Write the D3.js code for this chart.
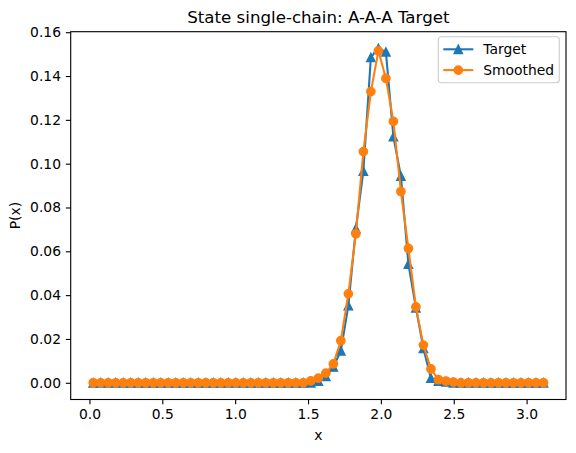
<!DOCTYPE html>
<html>
<head>
<meta charset="utf-8">
<script src="https://cdn.jsdelivr.net/npm/d3@7"></script>
<style>
  body { margin: 0; background: #fff; }
  text { font-family: "DejaVu Sans", sans-serif; fill: #000; }
</style>
</head>
<body>
<svg id="chart" width="576" height="453"></svg>
<script>
// bin centres on [0, pi], 61 bins
var xValues = [0.0258, 0.0773, 0.1288, 0.1803, 0.2318, 0.2833, 0.3348, 0.3863, 0.4378, 0.4893,
  0.5408, 0.5923, 0.6438, 0.6953, 0.7468, 0.7983, 0.8498, 0.9013, 0.9528, 1.0043,
  1.0558, 1.1073, 1.1588, 1.2103, 1.2618, 1.3133, 1.3648, 1.4163, 1.4678, 1.5193,
  1.5708, 1.6223, 1.6738, 1.7253, 1.7768, 1.8283, 1.8798, 1.9313, 1.9829, 2.0344,
  2.0859, 2.1374, 2.1889, 2.2404, 2.2919, 2.3434, 2.3949, 2.4464, 2.4979, 2.5494,
  2.6009, 2.6524, 2.7039, 2.7554, 2.8069, 2.8584, 2.9099, 2.9614, 3.0129, 3.0644,
  3.1159]

var target = [0, 0, 0, 0, 0, 0, 0, 0, 0, 0,
  0, 0, 0, 0, 0, 0, 0, 0, 0, 0,
  0, 0, 0, 0, 0, 0, 0, 0, 0, 0,
  0.0008, 0.0029, 0.0072, 0.0146, 0.0352, 0.0704, 0.0966, 0.1485, 0.1526, 0.1510,
  0.1123, 0.0943, 0.0542, 0.0342, 0.0157, 0.0021, 0.0008, 0.0004, 0, 0,
  0, 0, 0, 0, 0, 0, 0, 0, 0, 0,
  0]

var smoothed = [0, 0, 0, 0, 0, 0, 0, 0, 0, 0,
  0, 0, 0, 0, 0, 0, 0, 0, 0, 0,
  0, 0, 0, 0, 0, 0, 0, 0, 0, 0.0009,
  0.0021, 0.0044, 0.0086, 0.0192, 0.0406, 0.0680, 0.1055, 0.1329, 0.1515, 0.1389,
  0.1193, 0.0873, 0.0613, 0.0346, 0.0172, 0.0063, 0.0014, 0.0008, 0.0003, 0,
  0, 0, 0, 0, 0, 0, 0, 0, 0, 0,
  0]

var xTicks = [0.0, 0.5, 1.0, 1.5, 2.0, 2.5, 3.0]
var yTicks = [0.00, 0.02, 0.04, 0.06, 0.08, 0.10, 0.12, 0.14, 0.16]

var seriesNames = ['Target', 'Smoothed']
var colors = ['#1f77b4', '#ff7f0e']

var svg = d3.select('#chart')
var margin = {top: 31.7, left: 70.7, right: 10, bottom: 53.5}
var w = 576 - margin.left - margin.right
var h = 453 - margin.top - margin.bottom
var fs = 13.89

// matplotlib style 5% margins
var xExt = d3.extent(xValues)
var xPad = (xExt[1] - xExt[0]) * 0.05
var allY = target.concat(smoothed)
var yExt = d3.extent(allY)
var yPad = (yExt[1] - yExt[0]) * 0.05

var x = d3.scaleLinear().domain([xExt[0] - xPad, xExt[1] + xPad]).range([0, w])
var y = d3.scaleLinear().domain([yExt[0] - yPad, yExt[1] + yPad]).range([h, 0])

var g = svg.append('g').attr('transform', 'translate(' + margin.left + ',' + margin.top + ')')

var xAxis = g.append('g')
  .attr('transform', 'translate(0,' + h + ')')
  .call(d3.axisBottom(x).tickValues(xTicks).tickFormat(d3.format('.1f')).tickSizeInner(4.86).tickSizeOuter(0).tickPadding(4.86))
var yAxis = g.append('g')
  .call(d3.axisLeft(y).tickValues(yTicks).tickFormat(d3.format('.2f')).tickSizeInner(4.86).tickSizeOuter(0).tickPadding(4.86))

;[xAxis, yAxis].forEach(function (ax) {
  ax.select('.domain').remove()
  ax.selectAll('line').attr('stroke', '#000').attr('stroke-width', 1.11)
  ax.selectAll('text').attr('font-size', fs).attr('font-family', 'DejaVu Sans')
})

var line = d3.line()
  .x(function (d, i) { return x(xValues[i]) })
  .y(function (d) { return y(d) })

var ms = 8.33 / 2
var triangle = 'M0,' + (-ms) + 'L' + (-ms) + ',' + ms + 'L' + ms + ',' + ms + 'Z'

;[target, smoothed].forEach(function (data, k) {
  g.append('path')
    .datum(data)
    .attr('fill', 'none')
    .attr('stroke', colors[k])
    .attr('stroke-width', 2.08)
    .attr('stroke-linejoin', 'round')
    .attr('stroke-linecap', 'square')
    .attr('d', line)
  var pts = g.append('g').selectAll('.m').data(data).enter()
  if (k === 0) {
    pts.append('path')
      .attr('d', triangle)
      .attr('transform', function (d, i) { return 'translate(' + x(xValues[i]) + ',' + y(d) + ')' })
      .attr('fill', colors[k])
      .attr('stroke', colors[k])
      .attr('stroke-width', 1.39)
      .attr('stroke-linejoin', 'miter')
  } else {
    pts.append('circle')
      .attr('cx', function (d, i) { return x(xValues[i]) })
      .attr('cy', function (d) { return y(d) })
      .attr('r', ms)
      .attr('fill', colors[k])
      .attr('stroke', colors[k])
      .attr('stroke-width', 1.39)
  }
})

// frame
g.append('rect')
  .attr('width', w).attr('height', h)
  .attr('fill', 'none').attr('stroke', '#000').attr('stroke-width', 1.11)

// labels
svg.append('text')
  .attr('x', margin.left + w / 2).attr('y', margin.top - 8.33)
  .attr('text-anchor', 'middle').attr('font-size', 16.67)
  .text('State single-chain: A-A-A Target')
svg.append('text')
  .attr('x', margin.left + w / 2).attr('y', 440)
  .attr('text-anchor', 'middle').attr('font-size', fs)
  .text('x')
svg.append('text')
  .attr('transform', 'translate(20,' + (margin.top + h / 2) + ') rotate(-90)')
  .attr('text-anchor', 'middle').attr('font-size', fs)
  .text('P(x)')

// legend
var lg = svg.append('g').attr('transform', 'translate(438.3,36.7)')
lg.append('rect')
  .attr('width', 121).attr('height', 46)
  .attr('rx', 3).attr('ry', 3)
  .attr('fill', '#fff').attr('fill-opacity', 0.8)
  .attr('stroke', '#cccccc').attr('stroke-width', 1.11)
seriesNames.forEach(function (name, k) {
  var cy = 12.6 + k * 20.8
  lg.append('line')
    .attr('x1', 5).attr('x2', 35).attr('y1', cy).attr('y2', cy)
    .attr('stroke', colors[k]).attr('stroke-width', 2.08)
  if (k === 0) {
    lg.append('path').attr('d', triangle)
      .attr('transform', 'translate(20,' + cy + ')')
      .attr('fill', colors[k]).attr('stroke', colors[k]).attr('stroke-width', 1.39)
  } else {
    lg.append('circle').attr('cx', 20).attr('cy', cy).attr('r', ms)
      .attr('fill', colors[k]).attr('stroke', colors[k]).attr('stroke-width', 1.39)
  }
  lg.append('text')
    .attr('x', 45).attr('y', cy).attr('dy', '0.36em')
    .attr('font-size', fs)
    .text(name)
})
</script>
</body>
</html>
